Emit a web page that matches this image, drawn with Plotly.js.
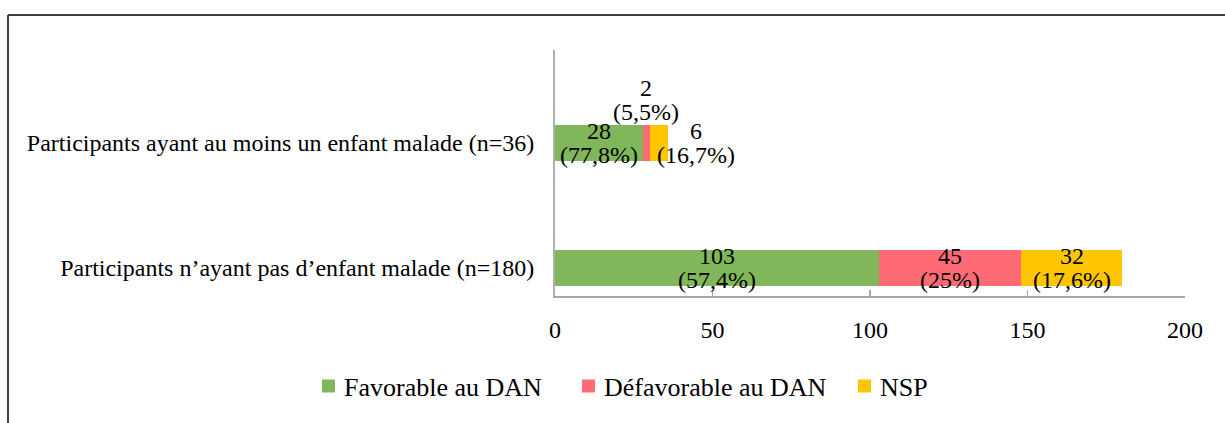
<!DOCTYPE html>
<html>
<head>
<meta charset="utf-8">
<script src="https://cdn.plot.ly/plotly-3.0.1.min.js"></script>
<style>
  html, body { margin: 0; padding: 0; background: #fff; }
  #chart { width: 1225px; height: 423px; }
</style>
</head>
<body>
<div id="chart"></div>
<script>
// ---- data ----
const categories = [
  "Participants n’ayant pas d’enfant malade (n=180)",
  "Participants ayant au moins un enfant malade (n=36)"
];
const seriesNames = ["Favorable au DAN", "Défavorable au DAN", "NSP"];
const favorable = [103, 28];
const defavorable = [45, 2];
const nsp = [32, 6];
const favorablePct = ["57,4%", "77,8%"];
const defavorablePct = ["25%", "5,5%"];
const nspPct = ["17,6%", "16,7%"];
const xTicks = [0, 50, 100, 150, 200];

// ---- style ----
const colors = ["#80B75A", "#FF6B75", "#FFC600"];
const FONT = "Liberation Serif, Times New Roman, serif";
const FS = 24;

const values = [favorable, defavorable, nsp];
const pcts = [favorablePct, defavorablePct, nspPct];

const traces = values.map((v, s) => ({
  type: "bar",
  orientation: "h",
  name: seriesNames[s],
  y: categories,
  x: v,
  marker: { color: colors[s], line: { width: 0 } },
  hoverinfo: "skip",
  showlegend: false
}));

// label offsets (pixels) per series/category: [xshift, yshift]
const labelShift = {
  "0,0": [0, 0], "0,1": [0, 0],
  "1,0": [0, 0], "1,1": [0, 43],
  "2,0": [0, 0], "2,1": [28, 0]
};

const annotations = [];
for (let c = 0; c < categories.length; c++) {
  let start = 0;
  for (let s = 0; s < values.length; s++) {
    const val = values[s][c];
    const key = s + "," + c;
    const [xs, ys] = labelShift[key];
    let xPos = start + val / 2;
    if (s === 2 && c === 1) xPos = start + val; // label beside the small bar
    const lines = [String(val), "(" + pcts[s][c] + ")"];
    lines.forEach((t, i) => {
      annotations.push({
        x: xPos, y: categories[c], xref: "x", yref: "y",
        text: t, showarrow: false,
        xanchor: "center", yanchor: "middle",
        xshift: xs, yshift: ys + (i === 0 ? 12 : -12),
        font: { family: FONT, size: FS, color: "#000" }
      });
    });
    start += val;
  }
}

// pixel -> paper helpers
const L = 555, R = 40, T = 50, B = 127;
const pw = 1225 - L - R, ph = 423 - T - B;
const px = (p) => (p - L) / pw;
const py = (p) => (423 - B - p) / ph;

// outer frame (partially cropped in the reference)
const shapes = [
  { type: "line", xref: "paper", yref: "paper", x0: px(8), x1: px(1230), y0: py(15), y1: py(15),
    line: { color: "#404040", width: 2 } },
  { type: "line", xref: "paper", yref: "paper", x0: px(8), x1: px(8), y0: py(15), y1: py(430),
    line: { color: "#404040", width: 2 } }
];

// manual legend (square + text), drawn from seriesNames / colors
const legendSquareX = [322, 582, 858];
const legendY = 386, sq = 13, legendTextGap = 7;
seriesNames.forEach((name, s) => {
  const x0 = legendSquareX[s];
  shapes.push({
    type: "rect", xref: "paper", yref: "paper",
    x0: px(x0), x1: px(x0 + sq), y0: py(legendY + sq / 2), y1: py(legendY - sq / 2),
    fillcolor: colors[s], line: { width: 0 }
  });
  annotations.push({
    xref: "paper", yref: "paper", x: px(x0 + sq + legendTextGap), y: py(legendY + 1),
    xanchor: "left", yanchor: "middle", showarrow: false,
    text: name, font: { family: FONT, size: 26, color: "#000" }
  });
});

const layout = {
  width: 1225, height: 423,
  margin: { l: L, r: R, t: T, b: B },
  paper_bgcolor: "#fff", plot_bgcolor: "#fff",
  barmode: "stack",
  bargap: 0.712,
  showlegend: false,
  xaxis: {
    range: [0, 200],
    tickvals: xTicks,
    ticktext: xTicks.map(String),
    showgrid: false, zeroline: false,
    showline: true, linecolor: "#A6A6A6", linewidth: 1.5,
    ticks: "inside", ticklen: 6, tickcolor: "#A6A6A6", tickwidth: 1.5,
    ticklabelstandoff: 12,
    tickfont: { family: FONT, size: FS, color: "#000" },
    fixedrange: true
  },
  yaxis: {
    type: "category",
    categoryorder: "array", categoryarray: categories,
    range: [-0.224, 1.744],
    showgrid: false, zeroline: false,
    showline: true, linecolor: "#B0B0B0", linewidth: 2,
    ticks: "", ticklabelstandoff: 14,
    tickfont: { family: FONT, size: FS, color: "#000" },
    fixedrange: true
  },
  annotations: annotations,
  shapes: shapes
};

Plotly.newPlot("chart", traces, layout, { displayModeBar: false, staticPlot: true });
</script>
</body>
</html>
